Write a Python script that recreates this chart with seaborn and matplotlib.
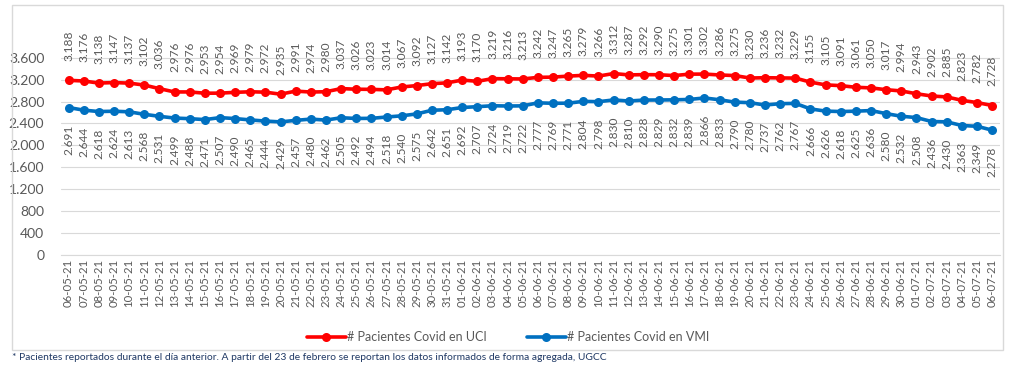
import numpy as np
import pandas as pd
import matplotlib
matplotlib.use("Agg")
import matplotlib.pyplot as plt
import seaborn as sns
from matplotlib.patches import Rectangle

fechas = [
    "06-05-21", "07-05-21", "08-05-21", "09-05-21", "10-05-21", "11-05-21", "12-05-21",
    "13-05-21", "14-05-21", "15-05-21", "16-05-21", "17-05-21", "18-05-21", "19-05-21",
    "20-05-21", "21-05-21", "22-05-21", "23-05-21", "24-05-21", "25-05-21", "26-05-21",
    "27-05-21", "28-05-21", "29-05-21", "30-05-21", "31-05-21", "01-06-21", "02-06-21",
    "03-06-21", "04-06-21", "05-06-21", "06-06-21", "07-06-21", "08-06-21", "09-06-21",
    "10-06-21", "11-06-21", "12-06-21", "13-06-21", "14-06-21", "15-06-21", "16-06-21",
    "17-06-21", "18-06-21", "19-06-21", "20-06-21", "21-06-21", "22-06-21", "23-06-21",
    "24-06-21", "25-06-21", "26-06-21", "27-06-21", "28-06-21", "29-06-21", "30-06-21",
    "01-07-21", "02-07-21", "03-07-21", "04-07-21", "05-07-21", "06-07-21",
]

uci = [
    3188, 3176, 3138, 3147, 3137, 3102, 3036, 2976, 2976, 2953,
    2954, 2969, 2979, 2972, 2935, 2991, 2974, 2980, 3037, 3026,
    3023, 3014, 3067, 3092, 3127, 3142, 3193, 3170, 3219, 3216,
    3213, 3242, 3247, 3265, 3279, 3266, 3312, 3287, 3292, 3290,
    3275, 3301, 3302, 3286, 3275, 3230, 3236, 3232, 3229, 3155,
    3105, 3091, 3061, 3050, 3017, 2994, 2943, 2902, 2885, 2823,
    2782, 2728,
]

vmi = [
    2691, 2644, 2618, 2624, 2613, 2568, 2531, 2499, 2488, 2471,
    2507, 2490, 2465, 2444, 2429, 2457, 2480, 2462, 2505, 2492,
    2494, 2518, 2540, 2575, 2642, 2651, 2692, 2707, 2724, 2719,
    2722, 2777, 2769, 2771, 2804, 2798, 2830, 2810, 2828, 2829,
    2832, 2839, 2866, 2833, 2790, 2780, 2737, 2762, 2767, 2666,
    2626, 2618, 2625, 2636, 2580, 2532, 2508, 2436, 2430, 2363,
    2349, 2278,
]

y_ticks = [0, 400, 800, 1200, 1600, 2000, 2400, 2800, 3200, 3600]

ROJO = "#FF0000"
AZUL = "#0070C0"
GRIS = "#595959"


def fmt_miles(v):
    return f"{v:,}".replace(",", ".")


sns.set_theme(style="white")
plt.rcParams["font.family"] = ["Lato", "DejaVu Sans"]

df = pd.DataFrame({"idx": np.arange(len(fechas)), "uci": uci, "vmi": vmi})

fig = plt.figure(figsize=(10.16, 3.70), dpi=100)
ax = fig.add_axes([0.060, 0.311, 0.924, 0.635])

sns.lineplot(data=df, x="idx", y="uci", ax=ax, color=ROJO, linewidth=2.6,
             marker="o", markersize=6.5, markeredgewidth=0,
             label="# Pacientes Covid en UCI")
sns.lineplot(data=df, x="idx", y="vmi", ax=ax, color=AZUL, linewidth=2.6,
             marker="o", markersize=6.5, markeredgewidth=0,
             label="# Pacientes Covid en VMI")

# etiquetas de datos
for i, v in enumerate(uci):
    ax.annotate(fmt_miles(v), (i, v), xytext=(0, 14), textcoords="offset points",
                rotation=90, ha="center", va="bottom", fontsize=8.6, color=GRIS)
for i, v in enumerate(vmi):
    ax.annotate(fmt_miles(v), (i, v), xytext=(0, -12), textcoords="offset points",
                rotation=90, ha="center", va="top", fontsize=8.6, color=GRIS)

ax.set_xlim(-0.5, len(fechas) - 0.5)
ax.set_ylim(0, 4290)
ax.set_yticks(y_ticks)
ax.set_yticklabels([fmt_miles(t) for t in y_ticks], fontsize=10, color=GRIS)
ax.set_xticks(np.arange(len(fechas)))
ax.set_xticklabels(fechas, rotation=90, fontsize=8.2, color=GRIS)
ax.set_xticks(np.arange(len(fechas) + 1) - 0.5, minor=True)
ax.tick_params(axis="x", which="major", length=0, pad=3)
ax.tick_params(axis="x", which="minor", length=3, color="#D9D9D9", width=0.8)
ax.tick_params(axis="y", length=0, pad=12)
ax.set_xlabel("")
ax.set_ylabel("")

ax.grid(axis="y", color="#D9D9D9", linewidth=0.8)
ax.set_axisbelow(True)
for s in ["top", "right", "left"]:
    ax.spines[s].set_visible(False)
ax.spines["bottom"].set_color("#D9D9D9")
ax.spines["bottom"].set_linewidth(0.8)

leg = ax.legend(loc="center", bbox_to_anchor=(0.500, 0.089),
                bbox_transform=fig.transFigure, ncol=2, frameon=False,
                fontsize=9, handlelength=3.1, columnspacing=3.2,
                handletextpad=0.1)
for t in leg.get_texts():
    t.set_color(GRIS)

# marco del grafico
fig.patches.append(Rectangle((12 / 1016, 1 - 350 / 370), (1003 - 12) / 1016,
                             (350 - 5) / 370, transform=fig.transFigure,
                             fill=False, edgecolor="#D9D9D9", linewidth=1))

fig.text(12 / 1016, 1 - 358 / 370,
         "* Pacientes reportados durante el día anterior. A partir del 23 de febrero "
         "se reportan los datos informados de forma agregada, UGCC",
         fontsize=7.4, color="#1F3864", va="center", ha="left")

fig.savefig("out.png", dpi=100)
